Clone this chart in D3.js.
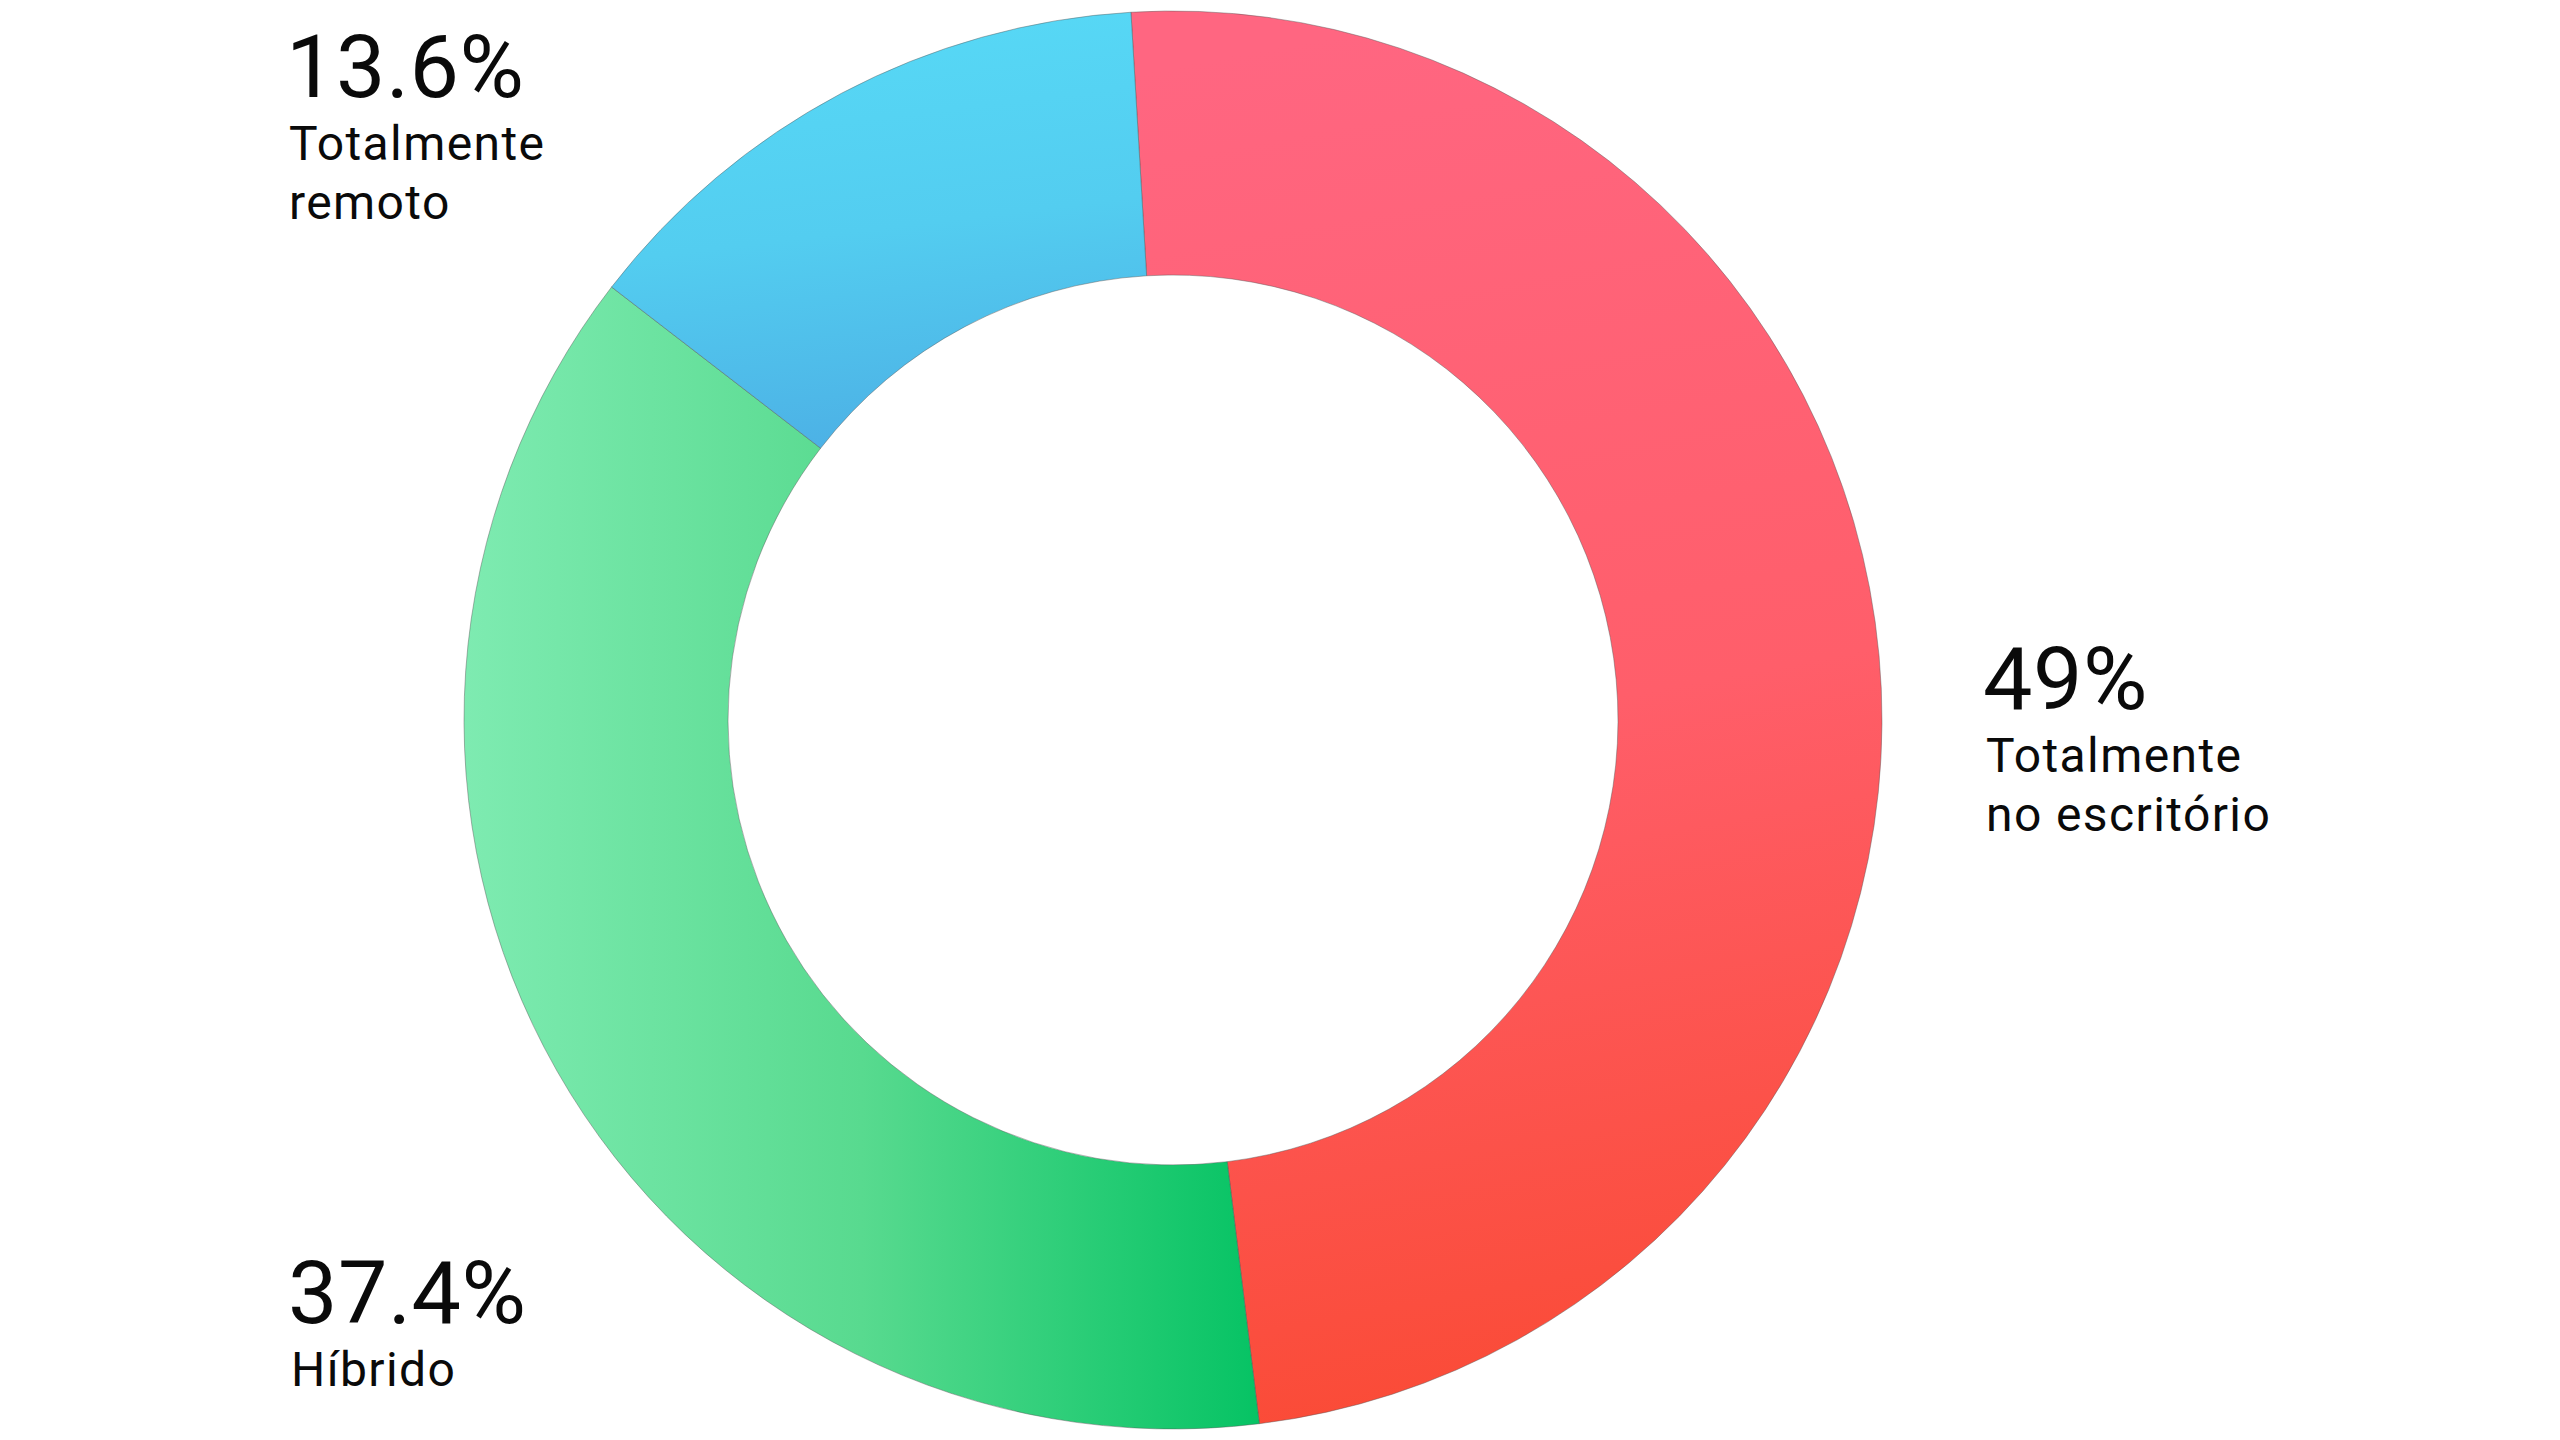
<!DOCTYPE html>
<html>
<head>
<meta charset="utf-8">
<script src="https://cdn.jsdelivr.net/npm/d3@7"></script>
<style>
  html, body { margin: 0; padding: 0; background: #fff; }
  svg text { font-family: Roboto, "Noto Sans", sans-serif; fill: #0a0a0a; }
</style>
</head>
<body>
<svg id="chart" width="2560" height="1440"></svg>
<script>
// data
var categories = ["Totalmente no escritório", "Híbrido", "Totalmente remoto"];
var values = [49, 37.4, 13.6];
var valueLabels = ["49%", "37.4%", "13.6%"];
var labelLines = [["Totalmente", "no escritório"], ["Híbrido"], ["Totalmente", "remoto"]];

var width = 2560, height = 1440;
var cx = 1173, cy = 720;
var outerR = 709, innerR = 445;

var svg = d3.select("#chart");
var defs = svg.append("defs");

// gradients for each slice
var grads = [
    {id: "g-office", x1: "45%", y1: "0%", x2: "55%", y2: "100%", stops: ["#ff6681", "#ff5e6a", "#fa4a34"]},
    {id: "g-hybrid", x1: "0%", y1: "50%", x2: "100%", y2: "50%", stops: ["#7eebb1", "#58da8f", "#06c364"]},
    {id: "g-remote", x1: "40%", y1: "0%", x2: "55%", y2: "100%", stops: ["#57d9f6", "#53cdf0", "#4cb0e5"]}
];
grads.forEach(function(g) {
    var lg = defs.append("linearGradient")
        .attr("id", g.id)
        .attr("x1", g.x1).attr("y1", g.y1)
        .attr("x2", g.x2).attr("y2", g.y2);
    g.stops.forEach(function(c, i) {
        lg.append("stop")
            .attr("offset", (i / (g.stops.length - 1) * 100) + "%")
            .attr("stop-color", c);
    });
});

var startAngle = -3.4 * Math.PI / 180;
var pie = d3.pie()
    .sort(null)
    .value(function(d) { return d; })
    .startAngle(startAngle)
    .endAngle(startAngle + 2 * Math.PI);

var arc = d3.arc()
    .innerRadius(innerR)
    .outerRadius(outerR);

var g = svg.append("g")
    .attr("transform", "translate(" + cx + "," + cy + ")");

g.selectAll("path")
    .data(pie(values))
    .enter()
    .append("path")
    .attr("d", arc)
    .attr("fill", function(d, i) { return "url(#" + grads[i].id + ")"; })
    .attr("stroke", "#555")
    .attr("stroke-opacity", 0.55)
    .attr("stroke-width", 0.8);

// labels
var labelPos = [
    {x: 1987, y: 709},
    {x: 292, y: 1323},
    {x: 290, y: 97}
];

var labels = svg.selectAll(".label")
    .data(categories)
    .enter()
    .append("g")
    .attr("class", "label")
    .attr("transform", function(d, i) { return "translate(" + labelPos[i].x + "," + labelPos[i].y + ")"; });

labels.append("text")
    .attr("x", -4)
    .attr("y", 0)
    .style("font-size", "88px")
    .style("letter-spacing", "0.5px")
    .text(function(d, i) { return valueLabels[i]; });

labels.each(function(d, i) {
    var el = d3.select(this);
    labelLines[i].forEach(function(line, j) {
        el.append("text")
            .attr("x", -1)
            .attr("y", 63 + j * 59)
            .style("font-size", "48px")
            .style("letter-spacing", "1.4px")
            .text(line);
    });
});
</script>
</body>
</html>
